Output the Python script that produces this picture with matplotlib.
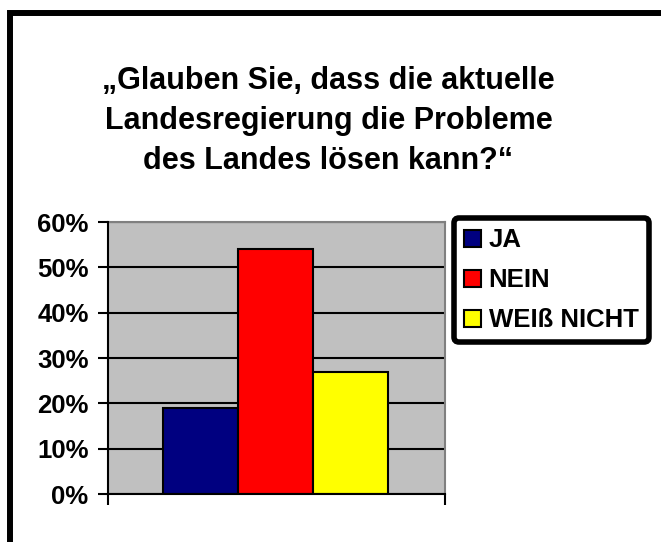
import matplotlib.pyplot as plt
from matplotlib.patches import Rectangle

plt.rcParams['font.family'] = ['Liberation Sans', 'DejaVu Sans']
plt.rcParams['font.weight'] = 'bold'

# Daten
kategorien = ['JA', 'NEIN', 'WEIß NICHT']
anteile = [19, 54, 27]
farben = ['#000080', '#FF0000', '#FFFF00']
yticks = [0, 10, 20, 30, 40, 50, 60]
titel = '„Glauben Sie, dass die aktuelle\nLandesregierung die Probleme\ndes Landes lösen kann?“'

fig = plt.figure(figsize=(6.61, 5.42), dpi=100)

# dicker Rahmen um das Diagramm (rechts/unten abgeschnitten)
fig.patches.append(Rectangle((10 / 661, -0.1), 1.2, (542 - 13) / 542 + 0.1,
                             transform=fig.transFigure, fill=False,
                             edgecolor='black', linewidth=4.3))

fig.text(0.497, (542 - 121) / 542, titel, ha='center', va='center',
         fontsize=22, fontweight='bold', linespacing=1.45)

ax = fig.add_axes([108 / 661, (542 - 494) / 542, 337 / 661, 272 / 542])
ax.set_facecolor('#C0C0C0')

breite = 0.2225
start = 0.163
for i, (k, v, c) in enumerate(zip(kategorien, anteile, farben)):
    ax.bar(start + breite * (i + 0.5), v, width=breite, color=c,
           edgecolor='black', linewidth=1.5, label=k, zorder=3)

ax.set_xlim(0, 1)
ax.set_ylim(0, 60)
ax.set_yticks(yticks)
ax.set_yticklabels([f'{t}%' for t in yticks], fontsize=18.5, fontweight='bold')
ax.yaxis.grid(True, color='black', linewidth=1.5, zorder=1)
ax.set_axisbelow(True)
ax.set_xticks([0, 1])
ax.set_xticklabels([])
ax.tick_params(axis='y', length=7, width=1.5, pad=7)
ax.tick_params(axis='x', length=8, width=1.5, direction='out')
for s in ['left', 'bottom']:
    ax.spines[s].set_color('black')
    ax.spines[s].set_linewidth(1.5)
    ax.spines[s].set_zorder(4)
for s in ['top', 'right']:
    ax.spines[s].set_color('#808080')
    ax.spines[s].set_linewidth(1.5)

leg = fig.legend(loc='upper left', bbox_to_anchor=(454 / 661, (542 - 218) / 542),
                 prop={'size': 18.5, 'weight': 'bold'}, handlelength=0.65,
                 handleheight=0.65, handletextpad=0.3, labelspacing=0.62,
                 borderpad=0.4, borderaxespad=0, fancybox=True, framealpha=1)
leg.get_frame().set_edgecolor('black')
leg.get_frame().set_linewidth(4)

fig.savefig('out.png', dpi=100)
